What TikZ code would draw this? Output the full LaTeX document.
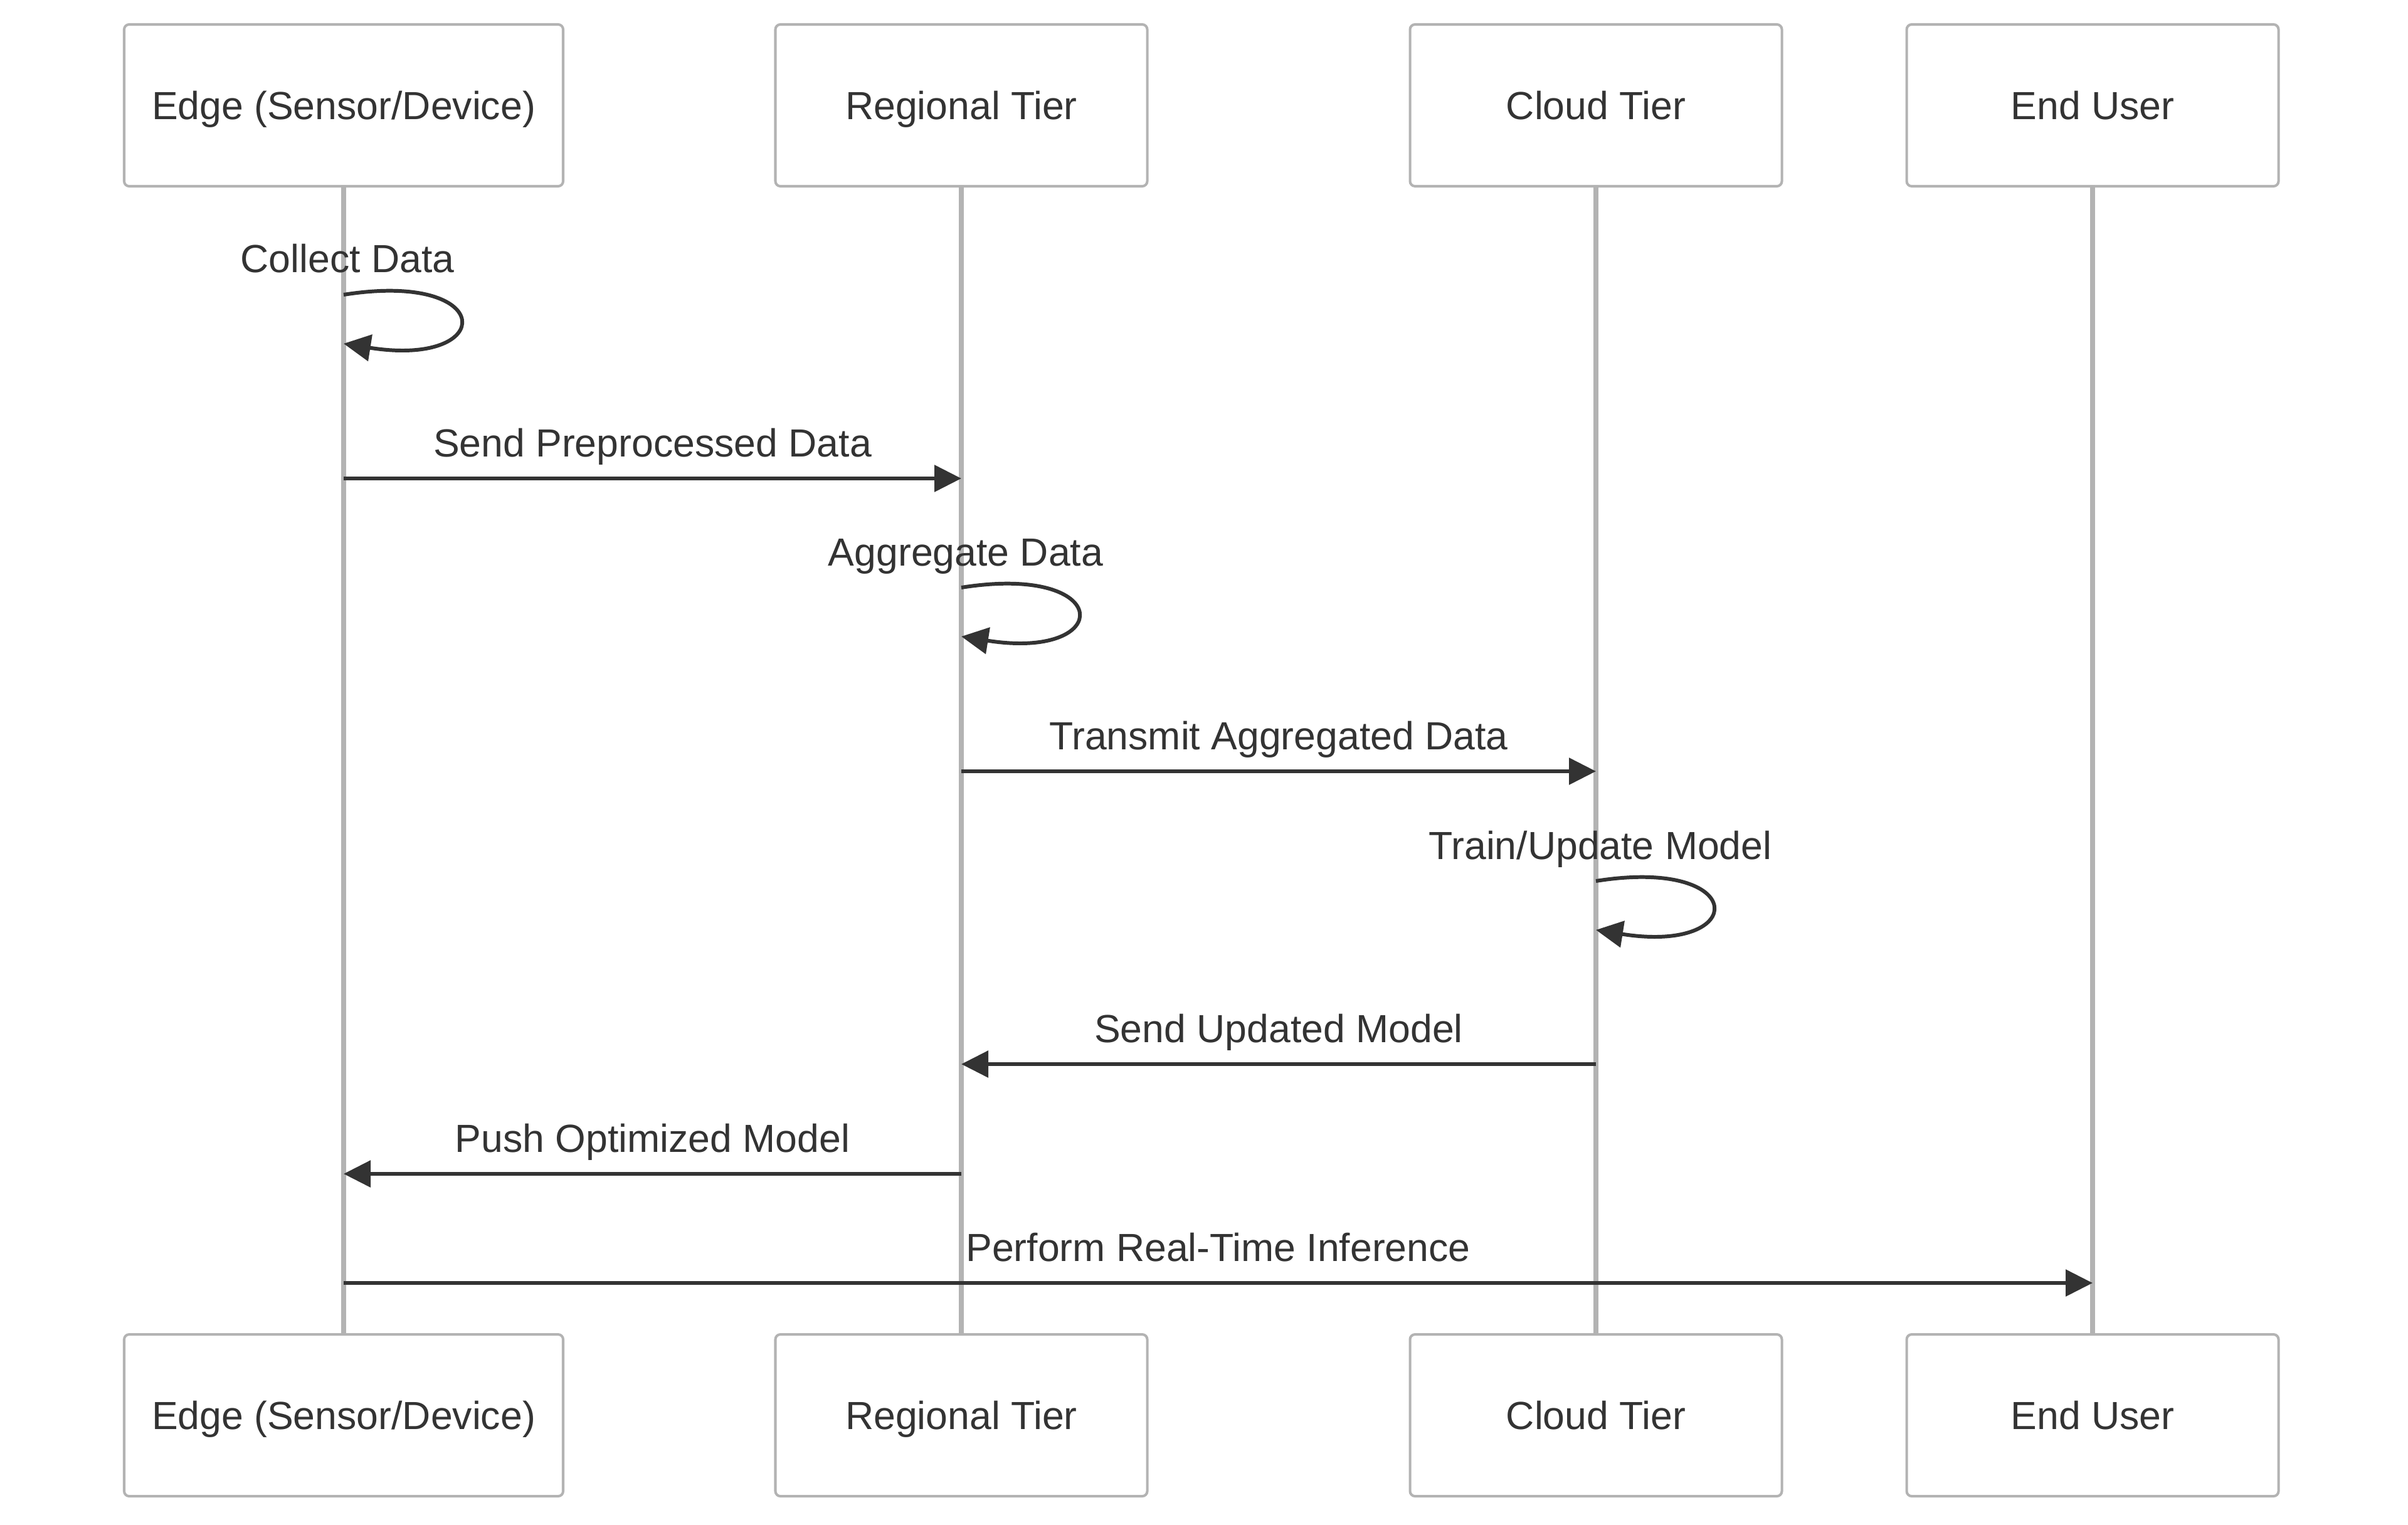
\documentclass[tikz,border=0pt]{standalone}
\usepackage{fontspec}
\setmainfont{Liberation Sans}
\usepackage{tikz}
\definecolor{linegray}{HTML}{B3B3B3}
\definecolor{ink}{HTML}{333333}
\tikzset{font=\fontsize{17.8}{21}\selectfont}
\usetikzlibrary{positioning,arrows.meta}

\begin{document}
\begin{tikzpicture}[node distance=18.27cm]
		\tikzstyle{actor} = [rectangle, draw=linegray, line width=1.15pt, rounded corners=0.08cm, fill=white, text=ink, minimum width=5.93cm, minimum height=2.58cm, text height=0.45cm, text depth=0cm, inner sep=0pt];
		\tikzstyle{lifeline} = [draw=linegray, line width=2.1pt];
		\tikzstyle{msg} = [draw=ink, line width=1.7pt, -{Triangle[length=0.43cm, width=0.42cm]}];
		\tikzstyle{msgtext} = [anchor=base, text=ink, inner sep=0pt, yshift=0.35cm];
		
		\useasboundingbox (0,0) rectangle (38.4,-24.31);
		
		\node[actor, minimum width=7cm](edge top) at (5.48,-1.68){Edge (Sensor/Device)};
		\node[actor](regional top) at (15.33,-1.68){Regional Tier};
		\node[actor](cloud top) at (25.45,-1.68){Cloud Tier};
		\node[actor](user top) at (33.37,-1.68){End User};
		\node[actor, minimum width=7cm, below = of edge top](edge bottom){Edge (Sensor/Device)};
		\node[actor, below = of regional top](regional bottom){Regional Tier};
		\node[actor, below = of cloud top](cloud bottom){Cloud Tier};
		\node[actor, below = of user top](user bottom){End User};
		
		\path[lifeline] (edge top.south) -- (edge bottom.north)
		(regional top.south) -- (regional bottom.north)
		(cloud top.south) -- (cloud bottom.north)
		(user top.south) -- (user bottom.north);
		
		% points on the lifelines
		\coordinate (collect) at (edge top |- 0,-4.70);
		\coordinate (collect end) at (edge top |- 0,-5.48);
		\coordinate (send a) at (edge top |- 0,-7.63);
		\coordinate (send b) at (regional top |- 0,-7.63);
		\coordinate (aggregate) at (regional top |- 0,-9.37);
		\coordinate (aggregate end) at (regional top |- 0,-10.15);
		\coordinate (transmit a) at (regional top |- 0,-12.30);
		\coordinate (transmit b) at (cloud top |- 0,-12.30);
		\coordinate (train) at (cloud top |- 0,-14.05);
		\coordinate (train end) at (cloud top |- 0,-14.83);
		\coordinate (updated a) at (cloud top |- 0,-16.97);
		\coordinate (updated b) at (regional top |- 0,-16.97);
		\coordinate (push a) at (regional top |- 0,-18.72);
		\coordinate (push b) at (edge top |- 0,-18.72);
		\coordinate (infer a) at (edge top |- 0,-20.46);
		\coordinate (infer b) at (user top |- 0,-20.46);
		
		\draw[msg] (collect) .. controls +(2.45,0.39) and +(2.45,-0.39) .. (collect end);
		\node[msgtext, xshift=0.06cm] at (collect){Collect Data};
		\draw[msg] (send a) -- node[msgtext]{Send Preprocessed Data} (send b);
		\draw[msg] (aggregate) .. controls +(2.45,0.39) and +(2.45,-0.39) .. (aggregate end);
		\node[msgtext, xshift=0.07cm] at (aggregate){Aggregate Data};
		\draw[msg] (transmit a) -- node[msgtext]{Transmit Aggregated Data} (transmit b);
		\draw[msg] (train) .. controls +(2.45,0.39) and +(2.45,-0.39) .. (train end);
		\node[msgtext, xshift=0.07cm] at (train){Train/Update Model};
		\draw[msg] (updated a) -- node[msgtext]{Send Updated Model} (updated b);
		\draw[msg] (push a) -- node[msgtext]{Push Optimized Model} (push b);
		\draw[msg] (infer a) -- node[msgtext]{Perform Real-Time Inference} (infer b);
		\end{tikzpicture}
\end{document}
